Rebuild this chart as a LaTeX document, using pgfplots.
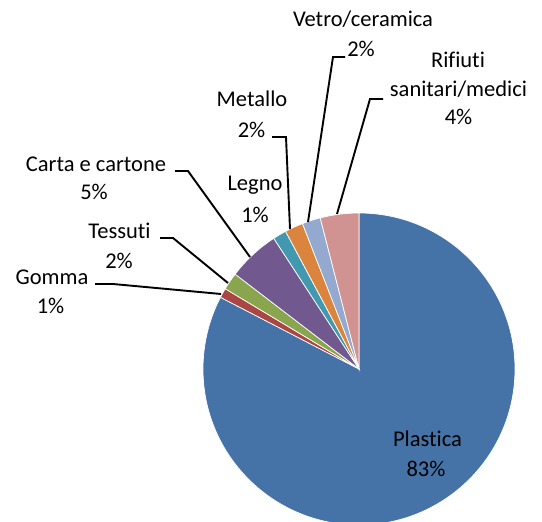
\documentclass[border=0pt]{standalone}
\usepackage{pgfplots}
\pgfplotsset{compat=1.18}
\usepackage{fontspec}
\setmainfont{Carlito}[Ligatures=NoCommon]
\definecolor{cPlastica}{HTML}{4572A7}
\definecolor{cGomma}{HTML}{AA4643}
\definecolor{cTessuti}{HTML}{89A54E}
\definecolor{cCarta}{HTML}{71588F}
\definecolor{cLegno}{HTML}{4198AF}
\definecolor{cMetallo}{HTML}{DB843D}
\definecolor{cVetro}{HTML}{93A9CF}
\definecolor{cRifiuti}{HTML}{D19392}
\newcommand\lblfont{\fontsize{22.5bp}{27bp}\selectfont}
\tikzset{lbl/.style={font=\lblfont,inner sep=0pt,anchor=base,text=black}}
% pie centre and radius (axis units = bp)
\newcommand\cx{359}
\newcommand\cy{153}
\newcommand\rr{156}
\gdef\cum{0}
% \slice{colour}{value in percent}: wedge clockwise from 12 o'clock
\newcommand\slice[2]{%
  \pgfmathsetmacro\sa{90-3.6*\cum}%
  \pgfmathsetmacro\cumnew{\cum+#2}%
  \global\let\cum\cumnew
  \pgfmathsetmacro\sb{90-3.6*\cum}%
  \edef\temp{\noexpand\filldraw[fill=#1,draw=white,line width=0.7bp]
    (axis cs:\cx,\cy) -- ++(\sa:\rr bp) arc[start angle=\sa,end angle=\sb,radius=\rr bp] -- cycle;}%
  \temp}
\begin{document}
\begin{tikzpicture}
\path[use as bounding box] (0,0) rectangle (542bp,522bp);
\begin{axis}[x=1bp,y=1bp,xmin=0,xmax=542,ymin=0,ymax=522,hide axis,
  anchor=south west,at={(0,0)},clip=true]
% data (percent)
\slice{cPlastica}{82.6}
\slice{cGomma}{1.0}
\slice{cTessuti}{1.8}
\slice{cCarta}{5.4}
\slice{cLegno}{1.4}
\slice{cMetallo}{1.9}
\slice{cVetro}{1.9}
\slice{cRifiuti}{4.0}
% leader lines
\draw[line width=1.9bp] (axis cs:175,351) -- (axis cs:188,351) -- (axis cs:250,265);
\draw[line width=1.9bp] (axis cs:160,284) -- (axis cs:173,284) -- (axis cs:228,239);
\draw[line width=1.9bp] (axis cs:95,238) -- (axis cs:113,238) -- (axis cs:221,228);
\draw[line width=1.9bp] (axis cs:272,385) -- (axis cs:286,385) -- (axis cs:290,293);
\draw[line width=1.9bp] (axis cs:345,465) -- (axis cs:333,465) -- (axis cs:308,300);
\draw[line width=1.9bp] (axis cs:383,423) -- (axis cs:370,423) -- (axis cs:337,308);
% labels
\node[lbl] at (axis cs:96,351) {Carta e cartone};
\node[lbl] at (axis cs:94,323) {5\%};
\node[lbl] at (axis cs:119.5,284) {Tessuti};
\node[lbl] at (axis cs:119,254) {2\%};
\node[lbl] at (axis cs:52,238) {Gomma};
\node[lbl] at (axis cs:50.5,209) {1\%};
\node[lbl] at (axis cs:255,332) {Legno};
\node[lbl] at (axis cs:255,300) {1\%};
\node[lbl] at (axis cs:252,415) {Metallo};
\node[lbl] at (axis cs:251.5,385) {2\%};
\node[lbl] at (axis cs:363,495) {Vetro/ceramica};
\node[lbl] at (axis cs:361,465) {2\%};
\node[lbl] at (axis cs:458,454) {Rifiuti};
\node[lbl] at (axis cs:458.5,425) {sanitari/medici};
\node[lbl] at (axis cs:458.5,397) {4\%};
\node[lbl] at (axis cs:427.5,76) {Plastica};
\node[lbl] at (axis cs:426,46) {83\%};
\end{axis}
\end{tikzpicture}
\end{document}
